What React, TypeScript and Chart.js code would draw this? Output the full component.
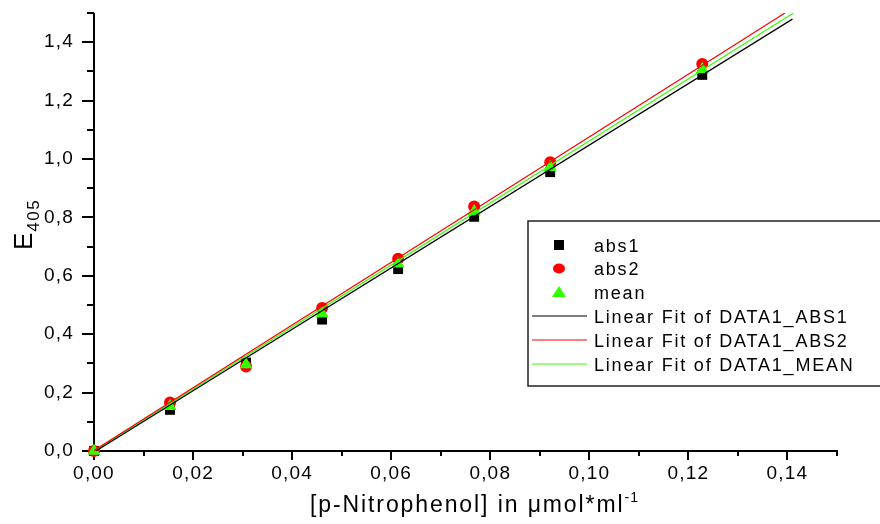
import React, { useEffect, useRef } from 'react';
import { Chart, registerables } from 'chart.js';

Chart.register(...registerables);

// ---- data ----
const concentration = [0, 0.01535, 0.0307, 0.04605, 0.0614, 0.07675, 0.0921, 0.1228];
const abs1 = [0, 0.141, 0.303, 0.45, 0.623, 0.802, 0.955, 1.288];
const abs2 = [0, 0.166, 0.289, 0.49, 0.658, 0.837, 0.989, 1.325];
const meanValues = [0, 0.153, 0.296, 0.47, 0.641, 0.82, 0.972, 1.307];

const fitAbs1X = [0, 0.141];
const fitAbs1Y = [-0.004, 1.479];
const fitAbs2X = [0, 0.1395];
const fitAbs2Y = [0.002, 1.5];
const fitMeanX = [0, 0.1412];
const fitMeanY = [-0.001, 1.5];

const xTickValues = [0, 0.01, 0.02, 0.03, 0.04, 0.05, 0.06, 0.07, 0.08, 0.09, 0.1, 0.11, 0.12, 0.13, 0.14, 0.15];
const xTickLabels = ['0,00', '', '0,02', '', '0,04', '', '0,06', '', '0,08', '', '0,10', '', '0,12', '', '0,14', ''];
const yTickValues = [0, 0.1, 0.2, 0.3, 0.4, 0.5, 0.6, 0.7, 0.8, 0.9, 1.0, 1.1, 1.2, 1.3, 1.4, 1.5];
const yTickLabels = ['0,0', '', '0,2', '', '0,4', '', '0,6', '', '0,8', '', '1,0', '', '1,2', '', '1,4', ''];

const legendLabels = ['abs1', 'abs2', 'mean', 'Linear Fit of DATA1_ABS1', 'Linear Fit of DATA1_ABS2', 'Linear Fit of DATA1_MEAN'];

const BLACK = '#000000';
const RED = '#ff0000';
const GREEN = '#33ff00';
const FONT = '"Liberation Sans", Arial, sans-serif';

const toPoints = (xs: number[], ys: number[]) => xs.map((x, i) => ({ x, y: ys[i] }));

const spacingPlugin = {
  id: 'letterSpacing',
  beforeLayout(chart: any) {
    (chart.ctx as any).letterSpacing = '1.2px';
  },
  beforeDraw(chart: any) {
    (chart.ctx as any).letterSpacing = '1.2px';
  },
};

const axesPlugin = {
  id: 'originAxes',
  beforeDatasetsDraw(chart: any) {
    const { ctx, chartArea: a, scales } = chart;
    const x = scales.x;
    const y = scales.y;
    ctx.save();
    ctx.strokeStyle = '#000';
    ctx.lineWidth = 2;
    ctx.beginPath();
    ctx.moveTo(a.left, a.top);
    ctx.lineTo(a.left, a.bottom + 1);
    ctx.moveTo(a.left - 1, a.bottom);
    ctx.lineTo(a.right + 1, a.bottom);
    xTickValues.forEach((v, i) => {
      const px = Math.round(x.getPixelForValue(v));
      const len = xTickLabels[i] ? 9 : 5;
      ctx.moveTo(px, a.bottom);
      ctx.lineTo(px, a.bottom + len);
    });
    yTickValues.forEach((v, i) => {
      const py = Math.round(y.getPixelForValue(v));
      const len = yTickLabels[i] ? 12 : 7;
      ctx.moveTo(a.left, py);
      ctx.lineTo(a.left - len, py);
    });
    ctx.stroke();
    ctx.restore();
  },
};

function drawSymbol(ctx: CanvasRenderingContext2D, kind: string, cx: number, cy: number, color: string) {
  ctx.fillStyle = color;
  ctx.beginPath();
  if (kind === 'rect') {
    ctx.rect(cx - 5, cy - 5, 10, 10);
  } else if (kind === 'circle') {
    ctx.ellipse(cx, cy, 6, 5, 0, 0, Math.PI * 2);
  } else {
    ctx.moveTo(cx, cy - 6);
    ctx.lineTo(cx + 7, cy + 5);
    ctx.lineTo(cx - 7, cy + 5);
    ctx.closePath();
  }
  ctx.fill();
}

const decorPlugin = {
  id: 'decor',
  afterDraw(chart: any) {
    const { ctx, chartArea: a } = chart;
    ctx.save();
    (ctx as any).letterSpacing = '0px';

    // legend box
    const bx = a.left + 434;
    const by = a.top + 208;
    ctx.strokeStyle = '#222';
    ctx.lineWidth = 1.5;
    ctx.strokeRect(bx, by, 420, 165);

    const rows = [245, 268.5, 292, 316, 340, 364].map((r) => r - 13 + a.top);
    const symbols = ['rect', 'circle', 'triangle'];
    const colors = [BLACK, RED, GREEN, BLACK, RED, GREEN];
    ctx.font = `18px ${FONT}`;
    (ctx as any).letterSpacing = '1.8px';
    ctx.textBaseline = 'alphabetic';
    ctx.textAlign = 'left';
    legendLabels.forEach((label, i) => {
      const cy = rows[i];
      if (i < 3) {
        drawSymbol(ctx, symbols[i], bx + 31, cy, colors[i]);
      } else {
        ctx.strokeStyle = colors[i];
        ctx.lineWidth = 1.2;
        ctx.beginPath();
        ctx.moveTo(bx + 4, cy);
        ctx.lineTo(bx + 59, cy);
        ctx.stroke();
      }
      ctx.fillStyle = '#000';
      ctx.fillText(label, bx + 66, cy + 6.5);
    });

    // x title
    ctx.fillStyle = '#000';
    ctx.font = `23px ${FONT}`;
    (ctx as any).letterSpacing = '1.9px';
    const main = '[p-Nitrophenol] in \u03bcmol*ml';
    const tx = 310;
    const ty = 512;
    ctx.fillText(main, tx, ty);
    const w = ctx.measureText(main).width;
    ctx.font = `14px ${FONT}`;
    (ctx as any).letterSpacing = '1px';
    ctx.fillText('-1', tx + w, ty - 10);

    // y title (rotated)
    ctx.translate(32, 250);
    ctx.rotate(-Math.PI / 2);
    ctx.font = `26px ${FONT}`;
    (ctx as any).letterSpacing = '0px';
    ctx.fillText('E', 0, 0);
    const ew = ctx.measureText('E').width;
    ctx.font = `17px ${FONT}`;
    (ctx as any).letterSpacing = '1.5px';
    ctx.fillText('405', ew + 1, 7);

    ctx.restore();
  },
};

export default function App() {
  const canvasRef = useRef<HTMLCanvasElement | null>(null);

  useEffect(() => {
    document.body.style.margin = '0';
    const canvas = canvasRef.current;
    if (!canvas) return;
    const chart = new Chart(canvas, {
      type: 'scatter',
      data: {
        datasets: [
          {
            label: legendLabels[0],
            data: toPoints(concentration, abs1),
            pointStyle: 'rect',
            pointRadius: 7,
            backgroundColor: BLACK,
            borderColor: BLACK,
            borderWidth: 0,
            clip: false,
            order: 3,
          },
          {
            label: legendLabels[1],
            data: toPoints(concentration, abs2),
            pointStyle: 'circle',
            pointRadius: 6,
            backgroundColor: RED,
            borderColor: RED,
            borderWidth: 0,
            clip: false,
            order: 2,
          },
          {
            label: legendLabels[2],
            data: toPoints(concentration, meanValues),
            pointStyle: 'triangle',
            pointRadius: 7.5,
            backgroundColor: GREEN,
            borderColor: GREEN,
            borderWidth: 0,
            clip: false,
            order: 1,
          },
          {
            label: legendLabels[3],
            data: toPoints(fitAbs1X, fitAbs1Y),
            showLine: true,
            pointRadius: 0,
            borderColor: BLACK,
            borderWidth: 1.2,
            order: 0,
          },
          {
            label: legendLabels[4],
            data: toPoints(fitAbs2X, fitAbs2Y),
            showLine: true,
            pointRadius: 0,
            borderColor: RED,
            borderWidth: 1.2,
            order: 0,
          },
          {
            label: legendLabels[5],
            data: toPoints(fitMeanX, fitMeanY),
            showLine: true,
            pointRadius: 0,
            borderColor: GREEN,
            borderWidth: 1.2,
            order: 0,
          },
        ],
      },
      options: {
        animation: false,
        responsive: false,
        devicePixelRatio: 1,
        layout: { padding: { top: 13, right: 43, left: 0, bottom: 0 } },
        plugins: {
          legend: { display: false },
          tooltip: { enabled: false },
        },
        scales: {
          x: {
            type: 'linear',
            min: 0,
            max: 0.15,
            afterFit: (s: any) => {
              s.height = 73;
              s.paddingLeft = 0;
              s.paddingRight = 0;
            },
            afterBuildTicks: (s: any) => {
              s.ticks = xTickValues.map((v) => ({ value: v }));
            },
            grid: { display: false, drawTicks: false },
            border: { display: false },
            ticks: {
              autoSkip: false,
              maxRotation: 0,
              minRotation: 0,
              padding: 11,
              color: '#000',
              font: { family: FONT, size: 19 },
              callback: (_v: any, i: number) => xTickLabels[i],
            },
          },
          y: {
            type: 'linear',
            min: 0,
            max: 1.5,
            afterFit: (s: any) => {
              s.width = 94;
              s.paddingTop = 0;
              s.paddingBottom = 0;
            },
            afterBuildTicks: (s: any) => {
              s.ticks = yTickValues.map((v) => ({ value: v }));
            },
            grid: { display: false, drawTicks: false },
            border: { display: false },
            ticks: {
              autoSkip: false,
              padding: 20,
              color: '#000',
              font: { family: FONT, size: 19 },
              callback: (_v: any, i: number) => yTickLabels[i],
            },
          },
        },
      },
      plugins: [spacingPlugin, axesPlugin, decorPlugin],
    } as any);
    return () => chart.destroy();
  }, []);

  return (
    <div style={{ width: 880, height: 524, position: 'relative', background: '#fff' }}>
      <canvas ref={canvasRef} width={880} height={524} style={{ display: 'block' }} />
    </div>
  );
}
